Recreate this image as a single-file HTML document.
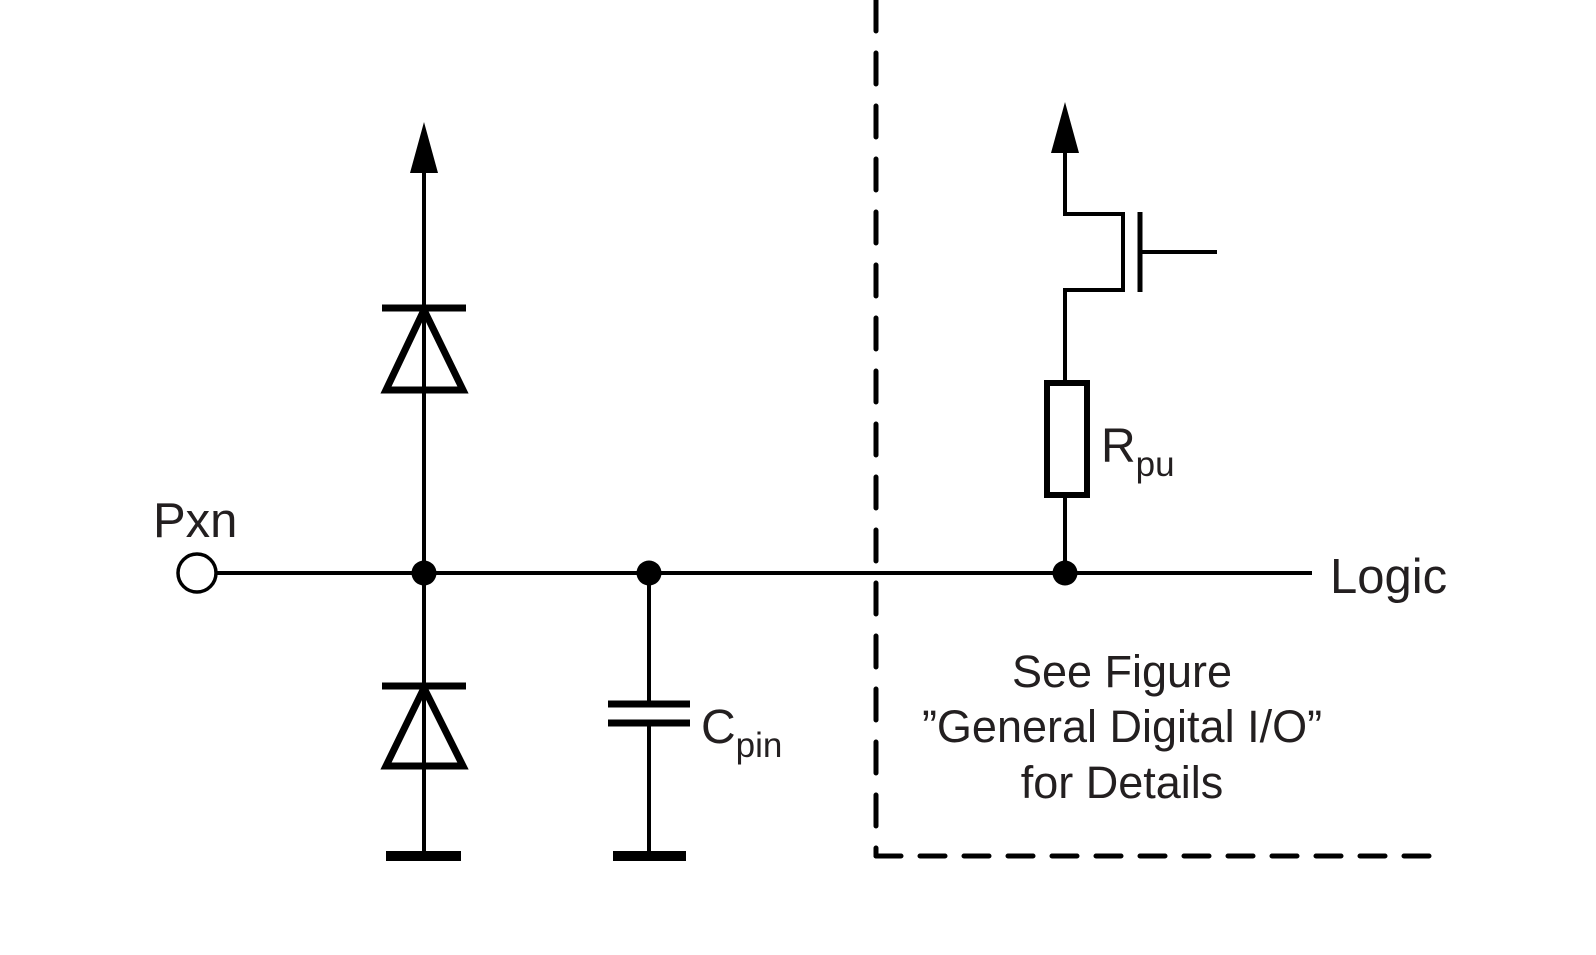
<!DOCTYPE html>
<html><head><style>
html,body{margin:0;padding:0;background:#fff;}
svg{display:block;}
text{font-family:"Liberation Sans",Arial,sans-serif;fill:#231f20;}
</style></head><body>
<svg width="1596" height="955" viewBox="0 0 1596 955" xmlns="http://www.w3.org/2000/svg">
<g stroke="#000" fill="none">
  <line x1="216" y1="573" x2="1312" y2="573" stroke-width="4"/>
  <circle cx="197" cy="573" r="19" stroke-width="3.5" fill="#fff"/>
  <line x1="424" y1="170" x2="424" y2="856" stroke-width="4"/>
  <polygon points="424,122 410,173 438,173" fill="#000" stroke="none"/>
  <line x1="382" y1="308" x2="466" y2="308" stroke-width="7"/>
  <polygon points="424,310 386,390 463,390" stroke-width="7" stroke-linejoin="miter"/>
  <line x1="382" y1="686" x2="466" y2="686" stroke-width="7"/>
  <polygon points="424,688 386,766 463,766" stroke-width="7"/>
  <line x1="386" y1="856" x2="461" y2="856" stroke-width="10"/>
  <line x1="649" y1="573" x2="649" y2="704" stroke-width="4"/>
  <line x1="649" y1="723" x2="649" y2="856" stroke-width="4"/>
  <line x1="608" y1="704" x2="690" y2="704" stroke-width="7"/>
  <line x1="608" y1="723" x2="690" y2="723" stroke-width="7"/>
  <line x1="613" y1="856" x2="686" y2="856" stroke-width="10"/>
  <line x1="876" y1="0" x2="876" y2="856" stroke-width="5" stroke-dasharray="31 22" stroke-linecap="round"/>
  <line x1="876" y1="856" x2="1437" y2="856" stroke-width="5" stroke-dasharray="25 19" stroke-linecap="round"/>
  <polygon points="1065,102 1051,153 1079,153" fill="#000" stroke="none"/>
  <polyline points="1065,150 1065,214 1123,214 1123,290 1065,290 1065,383" stroke-width="4"/>
  <line x1="1140" y1="212" x2="1140" y2="292" stroke-width="5"/>
  <line x1="1140" y1="252" x2="1217" y2="252" stroke-width="4"/>
  <rect x="1047" y="383" width="40" height="112" stroke-width="6"/>
  <line x1="1065" y1="495" x2="1065" y2="573" stroke-width="4"/>
</g>
<g fill="#000">
  <circle cx="424" cy="573" r="12.5"/>
  <circle cx="649" cy="573" r="12.5"/>
  <circle cx="1065" cy="573" r="12.5"/>
</g>
<text x="153" y="537" font-size="49">Pxn</text>
<text x="1330" y="593" font-size="49">Logic</text>
<text x="1101" y="462" font-size="48">R<tspan font-size="35" dy="14">pu</tspan></text>
<text x="701" y="743" font-size="48">C<tspan font-size="35" dy="14">pin</tspan></text>
<g font-size="45" text-anchor="middle">
  <text x="1122" y="687">See Figure</text>
  <text x="1122" y="742">”General Digital I/O”</text>
  <text x="1122" y="798">for Details</text>
</g>
</svg>
</body></html>
